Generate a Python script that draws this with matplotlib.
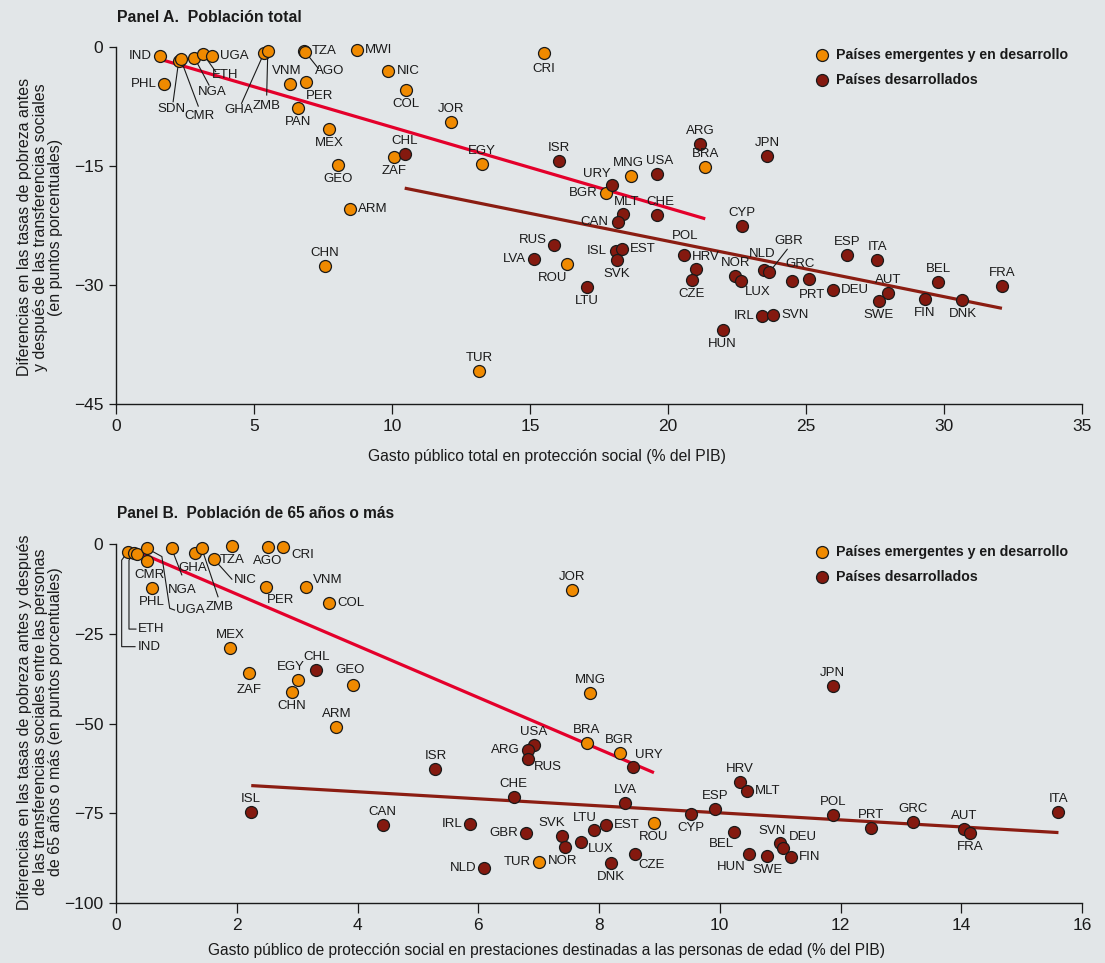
import matplotlib
matplotlib.use('Agg')
import matplotlib.pyplot as plt

BG = '#e2e6e8'
ORANGE = '#f08a00'
DARKRED = '#84190f'
RED_LINE = '#e4002b'
DARK_LINE = '#8b1d12'
FONT = ['Liberation Sans', 'DejaVu Sans']
INK = '#1a1a1a'

# ---------------- Panel A: poblacion total ----------------
a_codes = ['IND', 'PHL', 'SDN', 'CMR', 'NGA', 'ETH', 'UGA', 'GHA', 'ZMB', 'TZA',
           'AGO', 'VNM', 'PER', 'PAN', 'MWI', 'NIC', 'COL', 'JOR', 'MEX', 'GEO',
           'ZAF', 'ARM', 'CHN', 'CRI', 'EGY', 'BGR', 'MNG', 'BRA', 'ROU', 'TUR',
           'CHL', 'ISR', 'URY', 'USA', 'ARG', 'JPN', 'MLT', 'CAN', 'CHE', 'CYP',
           'RUS', 'LVA', 'ISL', 'EST', 'SVK', 'LTU', 'POL', 'HRV', 'CZE', 'NOR',
           'LUX', 'NLD', 'GBR', 'GRC', 'PRT', 'DEU', 'ESP', 'ITA', 'AUT', 'SWE',
           'FIN', 'BEL', 'DNK', 'FRA', 'IRL', 'SVN', 'HUN']
a_x = [1.58, 1.75, 2.27, 2.34, 2.84, 3.16, 3.47, 5.37, 5.50, 6.81,
       6.85, 6.30, 6.87, 6.60, 8.72, 9.87, 10.50, 12.14, 7.73, 8.03,
       10.06, 8.48, 7.56, 15.50, 13.25, 17.75, 18.66, 21.35, 16.35, 13.15,
       10.46, 16.06, 17.96, 19.60, 21.17, 23.60, 18.38, 18.20, 19.59, 22.67,
       15.88, 15.16, 18.10, 18.32, 18.16, 17.05, 20.58, 21.03, 20.86, 22.44,
       22.66, 23.48, 23.67, 25.10, 24.49, 25.97, 26.50, 27.58, 27.98, 27.64,
       29.30, 29.80, 30.67, 32.10, 23.42, 23.82, 21.98]
a_y = [-1.1, -4.7, -1.8, -1.5, -1.35, -0.9, -1.1, -0.7, -0.45, -0.45,
       -0.6, -4.7, -4.4, -7.7, -0.4, -3.0, -5.4, -9.4, -10.3, -14.9,
       -13.9, -20.4, -27.6, -0.8, -14.75, -18.45, -16.2, -15.1, -27.4, -40.8,
       -13.5, -14.4, -17.4, -16.05, -12.2, -13.75, -21.0, -22.0, -21.2, -22.6,
       -24.9, -26.7, -25.7, -25.4, -26.9, -30.2, -26.2, -28.0, -29.4, -28.9,
       -29.5, -28.1, -28.4, -29.2, -29.5, -30.6, -26.2, -26.9, -31.0, -32.0,
       -31.8, -29.6, -31.9, -30.1, -33.9, -33.8, -35.7]
a_group = ['E'] * 30 + ['D'] * 37
# fitted trend per group: slope, intercept
a_fit = {'E': (-1.018, 0.08), 'D': (-0.700, -10.47)}

# ---------------- Panel B: 65 anos o mas ----------------
b_codes = ['IND', 'ETH', '', 'CMR', 'UGA', 'PHL', 'NGA', 'GHA', 'ZMB', 'NIC',
           'TZA', 'AGO', 'CRI', 'PER', 'VNM', 'COL', 'MEX', 'ZAF', 'EGY', 'CHN',
           'GEO', 'ARM', 'JOR', 'MNG', 'BRA', 'BGR', 'ROU', 'TUR',
           'CHL', 'ISR', 'USA', 'ARG', 'RUS', 'URY', 'CHE', 'LVA', 'CYP', 'ESP',
           'HRV', 'MLT', 'JPN', 'POL', 'PRT', 'GRC', 'AUT', 'FRA', 'ITA', 'ISL',
           'CAN', 'IRL', 'GBR', 'SVK', 'NOR', 'NLD', 'LUX', 'LTU', 'EST', 'DNK',
           'CZE', 'BEL', 'HUN', 'SWE', 'SVN', 'DEU', 'FIN']
b_x = [0.20, 0.29, 0.34, 0.51, 0.51, 0.59, 0.92, 1.31, 1.42, 1.62,
       1.92, 2.52, 2.77, 2.49, 3.15, 3.53, 1.89, 2.20, 3.02, 2.91,
       3.92, 3.65, 7.55, 7.85, 7.80, 8.34, 8.91, 7.01,
       3.32, 5.29, 6.92, 6.82, 6.83, 8.56, 6.59, 8.43, 9.53, 9.92,
       10.33, 10.45, 11.87, 11.88, 12.51, 13.20, 14.04, 14.15, 15.61, 2.24,
       4.42, 5.87, 6.79, 7.39, 7.44, 6.10, 7.70, 7.92, 8.11, 8.20,
       8.59, 10.24, 10.49, 10.79, 10.99, 11.05, 11.18]
b_y = [-2.1, -2.6, -2.9, -4.7, -1.2, -12.3, -1.2, -2.4, -1.2, -4.2,
       -0.5, -0.9, -0.9, -12.1, -11.9, -16.3, -29.1, -35.8, -37.9, -41.3,
       -39.4, -50.9, -12.8, -41.6, -55.5, -58.3, -77.7, -88.5,
       -35.1, -62.6, -55.9, -57.4, -59.9, -62.2, -70.6, -72.2, -75.1, -73.9,
       -66.2, -68.8, -39.6, -75.4, -79.1, -77.4, -79.4, -80.4, -74.7, -74.7,
       -78.3, -77.9, -80.6, -81.3, -84.5, -90.2, -83.0, -79.8, -78.2, -88.9,
       -86.3, -80.1, -86.3, -86.9, -83.4, -84.7, -87.1]
b_group = ['E'] * 28 + ['D'] * 37
b_fit = {'E': (-7.197, 0.43), 'D': (-0.979, -65.1)}

# label offsets in pixels: (dx, dy up, ha)
SIDES = {'t': (0, 13, 'center'), 'b': (0, -14, 'center'),
         'l': (-8, 0, 'right'), 'r': (8, 0, 'left')}

a_place = {
    'IND': 'l', 'PHL': 'l', 'UGA': 'r', 'TZA': 'r', 'VNM': (-3, 13, 'center'),
    'PER': (14, -14, 'center'), 'PAN': 'b', 'MWI': 'r', 'NIC': 'r', 'COL': 'b',
    'JOR': 't', 'MEX': 'b', 'GEO': 'b', 'ZAF': 'b', 'ARM': 'r', 'CHN': 't',
    'CRI': (0, -16, 'center'), 'EGY': 't', 'BGR': 'l', 'MNG': (-3, 13, 'center'),
    'BRA': 't', 'ROU': (-15, -14, 'center'), 'TUR': 't',
    'CHL': 't', 'ISR': 't', 'URY': (-15, 11, 'center'), 'USA': (3, 13, 'center'),
    'ARG': 't', 'JPN': 't', 'MLT': (3, 12, 'center'), 'CAN': (-10, 0, 'right'),
    'CHE': (4, 13, 'center'), 'CYP': 't', 'RUS': (-21, 5, 'center'), 'LVA': 'l',
    'ISL': (-9, 0, 'right'), 'EST': 'r', 'SVK': 'b', 'LTU': 'b',
    'POL': (1, 19, 'center'), 'HRV': (9, 12, 'center'), 'CZE': 'b', 'NOR': 't',
    'LUX': (16, -11, 'center'), 'NLD': (-2, 16, 'center'),
    'GRC': (-9, 15, 'center'), 'PRT': (20, -14, 'center'), 'DEU': 'r',
    'ESP': 't', 'ITA': 't', 'AUT': 't', 'SWE': 'b', 'FIN': 'b', 'BEL': 't',
    'DNK': 'b', 'FRA': 't', 'IRL': 'l', 'SVN': 'r', 'HUN': 'b',
}
# leader lines: bend points (data), label anchor (data), ha
a_leaders = {
    'SDN': ([(2.07, -6.9)], (2.00, -7.8), 'center'),
    'CMR': ([(2.98, -7.45)], (3.01, -8.7), 'center'),
    'NGA': ([(3.37, -4.8)], (3.47, -5.7), 'center'),
    'ETH': ([(3.61, -3.1)], (3.95, -3.5), 'center'),
    'GHA': ([(4.55, -7.1)], (4.43, -8.0), 'center'),
    'ZMB': ([(5.46, -6.05)], (5.46, -7.45), 'center'),
    'AGO': ([(7.33, -2.7)], (7.75, -3.0), 'center'),
    'GBR': ([(24.32, -25.5)], (24.38, -24.5), 'center'),
}

b_place = {
    'CMR': (3, -14, 'center'), 'PHL': 'b', 'GHA': (-2, -15.5, 'center'),
    'TZA': 'b', 'AGO': 'b', 'CRI': (8, -8, 'left'), 'PER': (14, -13, 'center'),
    'VNM': (7, 7, 'left'), 'COL': 'r', 'MEX': 't', 'ZAF': (0, -17, 'center'),
    'EGY': (-8, 13, 'center'), 'CHN': 'b', 'GEO': (-3, 15, 'center'),
    'ARM': 't', 'JOR': 't', 'MNG': 't', 'BRA': 't', 'BGR': 't', 'ROU': 'b',
    'TUR': 'l',
    'CHL': 't', 'ISR': 't', 'USA': 't', 'ARG': 'l', 'RUS': (19.6, -7.7, 'center'),
    'URY': (16, 12, 'center'), 'CHE': 't', 'LVA': 't', 'CYP': 'b', 'ESP': 't',
    'HRV': 't', 'MLT': 'r', 'JPN': 't', 'POL': 't', 'PRT': 't', 'GRC': 't',
    'AUT': 't', 'FRA': 'b', 'ITA': 't', 'ISL': 't', 'CAN': 't', 'IRL': 'l',
    'GBR': 'l', 'SVK': (-10, 13, 'center'), 'NOR': (-3, -14, 'center'),
    'NLD': 'l', 'LUX': (20, -7, 'center'), 'LTU': (-9, 12, 'center'),
    'EST': 'r', 'DNK': 'b', 'CZE': (17, -11, 'center'),
    'BEL': (-12.6, -12.3, 'center'), 'HUN': (-18, -13, 'center'), 'SWE': 'b',
    'SVN': (-7, 12.6, 'center'), 'DEU': (6, 11, 'left'), 'FIN': 'r',
}
b_leaders = {
    'IND': ([(0.094, -4.5), (0.094, -28.6), (0.315, -28.6)], (0.36, -28.6), 'left'),
    'ETH': ([(0.215, -4.5), (0.215, -23.7), (0.33, -23.7)], (0.36, -23.7), 'left'),
    'UGA': ([(0.76, -3.5), (0.89, -17.9), (0.97, -18.4)], (1.00, -18.4), 'left'),
    'NGA': ([(1.09, -8.6)], (1.10, -12.8), 'center'),
    'ZMB': ([(1.69, -14.7)], (1.72, -17.5), 'center'),
    'NIC': ([(1.92, -9.8)], (1.95, -10.0), 'left'),
}

LEGEND = ['Países emergentes y en desarrollo', 'Países desarrollados']
COLORS = {'E': ORANGE, 'D': DARKRED}
LABEL_SIZE = 9.5


def draw_panel(ax, codes, xs, ys, groups, fit, place, leaders,
               xlim, ylim, xticks, yticks):
    ax.set_facecolor(BG)
    # trend lines over each group's range
    for g, col in (('E', RED_LINE), ('D', DARK_LINE)):
        gx = [x for x, gg in zip(xs, groups) if gg == g]
        slope, icpt = fit[g]
        x0, x1 = min(gx), max(gx)
        ax.plot([x0, x1], [icpt + slope * x0, icpt + slope * x1],
                color=col, lw=2.3, zorder=2, solid_capstyle='butt')
    for g in ('E', 'D'):
        gx = [x for x, gg in zip(xs, groups) if gg == g]
        gy = [y for y, gg in zip(ys, groups) if gg == g]
        ax.scatter(gx, gy, s=74, color=COLORS[g], edgecolor=INK,
                   linewidth=0.9, zorder=4, clip_on=False)
    for c, x, y in zip(codes, xs, ys):
        if not c:
            continue
        if c in leaders:
            pts, (lx, ly), ha = leaders[c]
            px = [x] + [p[0] for p in pts]
            py = [y] + [p[1] for p in pts]
            ax.plot(px, py, color=INK, lw=0.8, zorder=3, clip_on=False)
            ax.text(lx, ly, c, ha=ha, va='center', fontsize=LABEL_SIZE,
                    family=FONT, color=INK, zorder=5)
            continue
        p = place.get(c, 't')
        dx, dy, ha = SIDES[p] if isinstance(p, str) else p
        ax.annotate(c, (x, y), xytext=(dx * 0.72, dy * 0.72),
                    textcoords='offset points', ha=ha, va='center',
                    fontsize=LABEL_SIZE, family=FONT, color=INK, zorder=5)
    ax.set_xlim(*xlim)
    ax.set_ylim(*ylim)
    ax.set_xticks(xticks)
    ax.set_yticks(yticks)
    for s in ('top', 'right'):
        ax.spines[s].set_visible(False)
    for s in ('left', 'bottom'):
        ax.spines[s].set_linewidth(1.0)
        ax.spines[s].set_color(INK)
    ax.tick_params(axis='x', length=7, width=0.9, pad=4, labelsize=12.5,
                   colors=INK)
    ax.tick_params(axis='y', length=5, width=0.9, pad=4, labelsize=12.5,
                   colors=INK)
    for lab in ax.get_xticklabels() + ax.get_yticklabels():
        lab.set_family(FONT)
    # legend
    for i, (g, txt) in enumerate(zip(('E', 'D'), LEGEND)):
        yy = 0.978 - i * 0.07
        ax.scatter([0.731], [yy], s=74, color=COLORS[g], edgecolor=INK,
                   linewidth=0.9, transform=ax.transAxes, clip_on=False, zorder=6)
        ax.text(0.745, yy, txt, transform=ax.transAxes, ha='left', va='center',
                fontsize=10.2, fontweight='bold', family=FONT, color=INK)


fig = plt.figure(figsize=(11.05, 9.63), dpi=100, facecolor=BG)
ax_a = fig.add_axes([116 / 1105, 1 - 404 / 963, 966 / 1105, 357 / 963])
ax_b = fig.add_axes([116 / 1105, 1 - 903 / 963, 966 / 1105, 359 / 963])

draw_panel(ax_a, a_codes, a_x, a_y, a_group, a_fit, a_place, a_leaders,
           (0, 35), (-45, 0), range(0, 36, 5), [0, -15, -30, -45])
draw_panel(ax_b, b_codes, b_x, b_y, b_group, b_fit, b_place, b_leaders,
           (0, 16), (-100, 0), range(0, 17, 2), [0, -25, -50, -75, -100])

fig.text(117 / 1105, 1 - 17 / 963, 'Panel A.  Población total', ha='left',
         va='center', fontsize=11.4, fontweight='bold', family=FONT, color=INK)
fig.text(117 / 1105, 1 - 514 / 963, 'Panel B.  Población de 65 años o más', ha='left',
         va='center', fontsize=11.2, fontweight='bold', family=FONT, color=INK)

fig.text(40 / 1105, 1 - 227 / 963,
         'Diferencias en las tasas de pobreza antes\n'
         'y después de las transferencias sociales\n'
         '(en puntos porcentuales)',
         rotation=90, ha='center', va='center', multialignment='center',
         fontsize=11.5, family=FONT, color=INK, linespacing=1.08)
fig.text(40 / 1105, 1 - 722 / 963,
         'Diferencias en las tasas de pobreza antes y después\n'
         'de las transferencias sociales entre las personas\n'
         'de 65 años o más (en puntos porcentuales)',
         rotation=90, ha='center', va='center', multialignment='center',
         fontsize=11.5, family=FONT, color=INK, linespacing=1.08)

fig.text(547 / 1105, 1 - 456 / 963,
         'Gasto público total en protección social (% del PIB)',
         ha='center', va='center', fontsize=11.3, family=FONT, color=INK)
fig.text(547 / 1105, 1 - 950 / 963,
         'Gasto público de protección social en prestaciones destinadas '
         'a las personas de edad (% del PIB)',
         ha='center', va='center', fontsize=11.2, family=FONT, color=INK)

fig.savefig('out.png', dpi=100, facecolor=BG)
